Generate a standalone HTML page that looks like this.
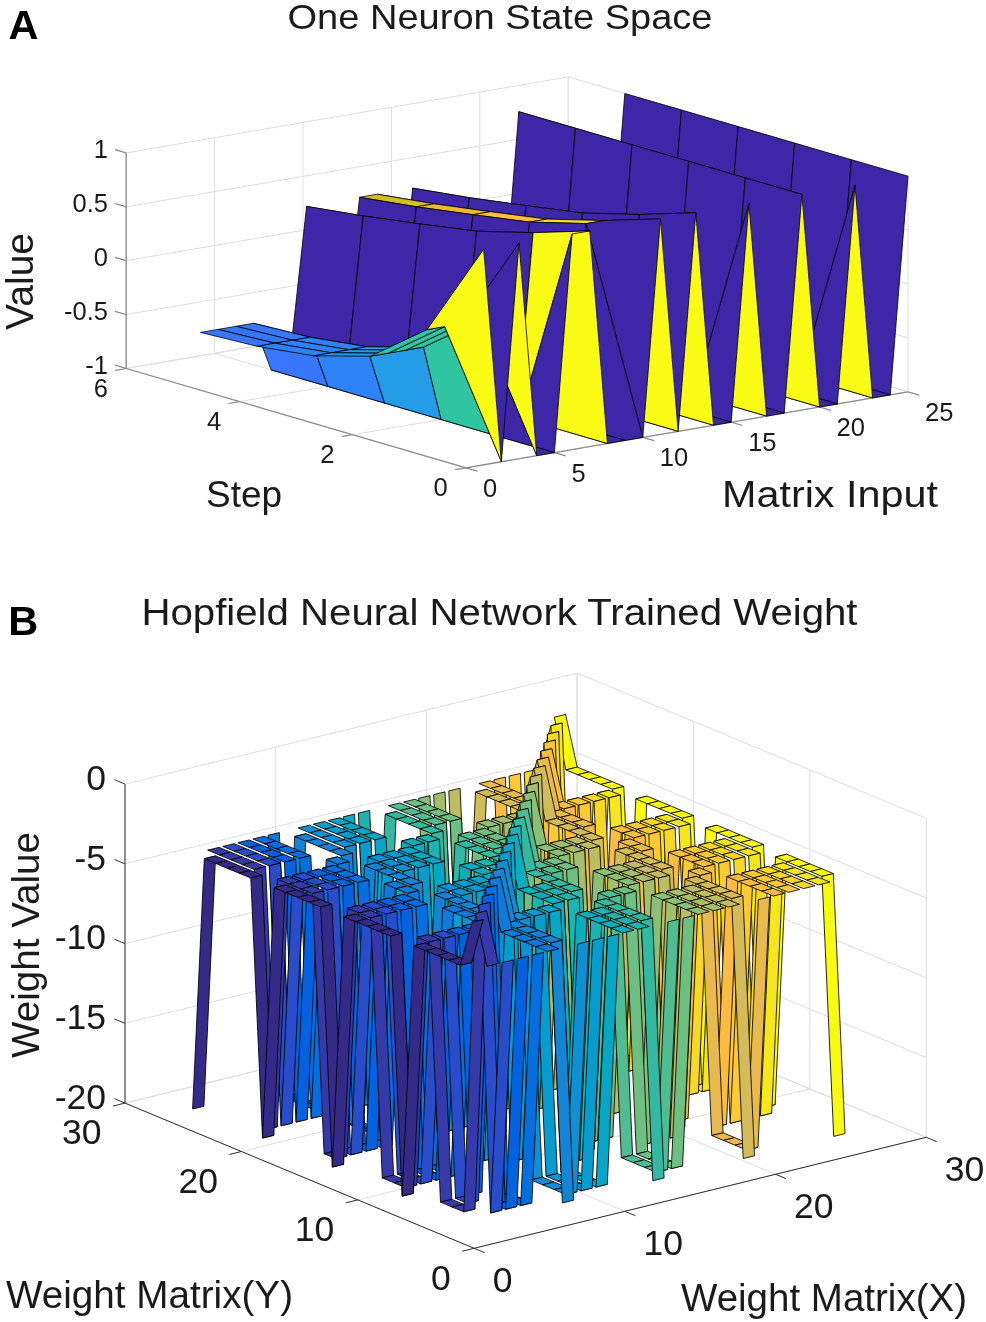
<!DOCTYPE html>
<html lang="en"><head><meta charset="utf-8"><title>Hopfield network figure</title>
<style>html,body{margin:0;padding:0;background:#fff}svg{display:block}#plotB polygon{stroke:#000;stroke-width:0.85;stroke-linejoin:round}</style>
</head><body>
<svg width="986" height="1322" viewBox="0 0 986 1322">
<rect width="986" height="1322" fill="#fff"/>
<g id="plotA">
<g><line x1="466" y1="467.8" x2="126.2" y2="368.5" stroke="#dedede" stroke-width="1.0"/><line x1="126.2" y1="368.5" x2="126.2" y2="152.9" stroke="#dedede" stroke-width="1.0"/><line x1="554.4" y1="452.6" x2="214.6" y2="353.3" stroke="#dedede" stroke-width="1.0"/><line x1="214.6" y1="353.3" x2="214.6" y2="137.7" stroke="#dedede" stroke-width="1.0"/><line x1="642.8" y1="437.4" x2="303" y2="338.1" stroke="#dedede" stroke-width="1.0"/><line x1="303" y1="338.1" x2="303" y2="122.5" stroke="#dedede" stroke-width="1.0"/><line x1="731.2" y1="422.2" x2="391.4" y2="322.9" stroke="#dedede" stroke-width="1.0"/><line x1="391.4" y1="322.9" x2="391.4" y2="107.3" stroke="#dedede" stroke-width="1.0"/><line x1="819.6" y1="407" x2="479.8" y2="307.7" stroke="#dedede" stroke-width="1.0"/><line x1="479.8" y1="307.7" x2="479.8" y2="92.1" stroke="#dedede" stroke-width="1.0"/><line x1="908" y1="391.8" x2="568.2" y2="292.5" stroke="#dedede" stroke-width="1.0"/><line x1="568.2" y1="292.5" x2="568.2" y2="76.9" stroke="#dedede" stroke-width="1.0"/><line x1="466" y1="467.8" x2="908" y2="391.8" stroke="#dedede" stroke-width="1.0"/><line x1="908" y1="391.8" x2="908" y2="176.2" stroke="#dedede" stroke-width="1.0"/><line x1="352.7" y1="434.7" x2="794.7" y2="358.7" stroke="#dedede" stroke-width="1.0"/><line x1="794.7" y1="358.7" x2="794.7" y2="143.1" stroke="#dedede" stroke-width="1.0"/><line x1="239.5" y1="401.6" x2="681.5" y2="325.6" stroke="#dedede" stroke-width="1.0"/><line x1="681.5" y1="325.6" x2="681.5" y2="110" stroke="#dedede" stroke-width="1.0"/><line x1="126.2" y1="368.5" x2="568.2" y2="292.5" stroke="#dedede" stroke-width="1.0"/><line x1="568.2" y1="292.5" x2="568.2" y2="76.9" stroke="#dedede" stroke-width="1.0"/><line x1="126.2" y1="368.5" x2="568.2" y2="292.5" stroke="#dedede" stroke-width="1.0"/><line x1="568.2" y1="292.5" x2="908" y2="391.8" stroke="#dedede" stroke-width="1.0"/><line x1="126.2" y1="314.6" x2="568.2" y2="238.6" stroke="#dedede" stroke-width="1.0"/><line x1="568.2" y1="238.6" x2="908" y2="337.9" stroke="#dedede" stroke-width="1.0"/><line x1="126.2" y1="260.7" x2="568.2" y2="184.7" stroke="#dedede" stroke-width="1.0"/><line x1="568.2" y1="184.7" x2="908" y2="284" stroke="#dedede" stroke-width="1.0"/><line x1="126.2" y1="206.8" x2="568.2" y2="130.8" stroke="#dedede" stroke-width="1.0"/><line x1="568.2" y1="130.8" x2="908" y2="230.1" stroke="#dedede" stroke-width="1.0"/><line x1="126.2" y1="152.9" x2="568.2" y2="76.9" stroke="#dedede" stroke-width="1.0"/><line x1="568.2" y1="76.9" x2="908" y2="176.2" stroke="#dedede" stroke-width="1.0"/></g>
<g><line x1="466" y1="467.8" x2="908" y2="391.8" stroke="#8a8a8a" stroke-width="1.3"/><line x1="466" y1="467.8" x2="126.2" y2="368.5" stroke="#8a8a8a" stroke-width="1.3"/><line x1="126.2" y1="368.5" x2="126.2" y2="152.9" stroke="#8a8a8a" stroke-width="1.3"/><line x1="466" y1="467.8" x2="477.3" y2="471.1" stroke="#8a8a8a" stroke-width="1.2"/><line x1="554.4" y1="452.6" x2="565.7" y2="455.9" stroke="#8a8a8a" stroke-width="1.2"/><line x1="642.8" y1="437.4" x2="654.1" y2="440.7" stroke="#8a8a8a" stroke-width="1.2"/><line x1="731.2" y1="422.2" x2="742.5" y2="425.5" stroke="#8a8a8a" stroke-width="1.2"/><line x1="819.6" y1="407" x2="830.9" y2="410.3" stroke="#8a8a8a" stroke-width="1.2"/><line x1="908" y1="391.8" x2="919.3" y2="395.1" stroke="#8a8a8a" stroke-width="1.2"/><line x1="466" y1="467.8" x2="455" y2="469.7" stroke="#8a8a8a" stroke-width="1.2"/><line x1="352.7" y1="434.7" x2="341.8" y2="436.6" stroke="#8a8a8a" stroke-width="1.2"/><line x1="239.5" y1="401.6" x2="228.5" y2="403.5" stroke="#8a8a8a" stroke-width="1.2"/><line x1="126.2" y1="368.5" x2="115.3" y2="370.4" stroke="#8a8a8a" stroke-width="1.2"/><line x1="126.2" y1="368.5" x2="114.9" y2="365.2" stroke="#8a8a8a" stroke-width="1.2"/><line x1="126.2" y1="314.6" x2="114.9" y2="311.3" stroke="#8a8a8a" stroke-width="1.2"/><line x1="126.2" y1="260.7" x2="114.9" y2="257.4" stroke="#8a8a8a" stroke-width="1.2"/><line x1="126.2" y1="206.8" x2="114.9" y2="203.5" stroke="#8a8a8a" stroke-width="1.2"/><line x1="126.2" y1="152.9" x2="114.9" y2="149.6" stroke="#8a8a8a" stroke-width="1.2"/></g>
<g stroke="#000" stroke-width="0.8" stroke-linejoin="round"><polygon points="663.8,328.6 681.5,110 624.8,93.5 607.2,312.1" fill="#3e26a8"/><polygon points="720.4,345.2 738.1,126.5 681.5,110 663.8,328.6" fill="#3e26a8"/><polygon points="777.1,361.7 794.7,143.1 738.1,126.5 720.4,345.2" fill="#3e26a8"/><polygon points="833.7,378.3 851.4,159.7 794.7,143.1 777.1,361.7" fill="#3e26a8"/><polygon points="890.3,394.8 908,176.2 851.4,159.7 833.7,378.3" fill="#3e26a8"/><polygon points="646.1,331.7 663.8,328.6 607.2,312.1 589.5,315.1" fill="#3e26a8"/><polygon points="702.8,348.2 720.4,345.2 663.8,328.6 646.1,331.7" fill="#3e26a8"/><polygon points="759.4,364.8 777.1,361.7 720.4,345.2 702.8,348.2" fill="#3e26a8"/><polygon points="816,381.3 833.7,378.3 777.1,361.7 759.4,364.8" fill="#3e26a8"/><polygon points="872.6,397.9 890.3,394.8 833.7,378.3 816,381.3" fill="#3e26a8"/><polygon points="628.4,334.7 646.1,331.7 589.5,315.1 571.8,318.2" fill="#3e26a8"/><polygon points="685.1,351.3 702.8,348.2 646.1,331.7 628.4,334.7" fill="#3e26a8"/><polygon points="741.7,367.8 759.4,364.8 702.8,348.2 685.1,351.3" fill="#3e26a8"/><polygon points="798.3,384.4 816,381.3 759.4,364.8 741.7,367.8" fill="#3e26a8"/><polygon points="855,185.3 872.6,397.9 816,381.3 798.3,384.4" fill="#f9fb15"/><polygon points="610.8,337.8 628.4,334.7 571.8,318.2 554.1,321.2" fill="#3e26a8"/><polygon points="667.4,354.3 685.1,351.3 628.4,334.7 610.8,337.8" fill="#3e26a8"/><polygon points="724,370.9 741.7,367.8 685.1,351.3 667.4,354.3" fill="#3e26a8"/><polygon points="780.6,387.4 798.3,384.4 741.7,367.8 724,370.9" fill="#3e26a8"/><polygon points="837.3,404 855,185.3 798.3,384.4 780.6,387.4" fill="#3e26a8"/><polygon points="593.1,340.8 610.8,337.8 554.1,321.2 536.5,324.2" fill="#3e26a8"/><polygon points="649.7,357.4 667.4,354.3 610.8,337.8 593.1,340.8" fill="#3e26a8"/><polygon points="706.3,373.9 724,370.9 667.4,354.3 649.7,357.4" fill="#3e26a8"/><polygon points="763,390.4 780.6,387.4 724,370.9 706.3,373.9" fill="#3e26a8"/><polygon points="819.6,407 837.3,404 780.6,387.4 763,390.4" fill="#3e26a8"/><polygon points="575.4,128.2 593.1,340.8 536.5,324.2 518.8,111.7" fill="#f9fb15"/><polygon points="632,144.8 649.7,357.4 593.1,340.8 575.4,128.2" fill="#f9fb15"/><polygon points="688.7,161.3 706.3,373.9 649.7,357.4 632,144.8" fill="#f9fb15"/><polygon points="745.3,177.9 763,390.4 706.3,373.9 688.7,161.3" fill="#f9fb15"/><polygon points="801.9,194.4 819.6,407 763,390.4 745.3,177.9" fill="#f9fb15"/><polygon points="557.7,346.9 575.4,128.2 518.8,111.7 501.1,330.3" fill="#3e26a8"/><polygon points="614.4,363.4 632,144.8 575.4,128.2 557.7,346.9" fill="#3e26a8"/><polygon points="671,380 688.7,161.3 632,144.8 614.4,363.4" fill="#3e26a8"/><polygon points="727.6,396.5 745.3,177.9 688.7,161.3 671,380" fill="#3e26a8"/><polygon points="784.2,413.1 801.9,194.4 745.3,177.9 727.6,396.5" fill="#3e26a8"/><polygon points="540,349.9 557.7,346.9 501.1,330.3 483.4,333.4" fill="#3e26a8"/><polygon points="596.7,366.5 614.4,363.4 557.7,346.9 540,349.9" fill="#3e26a8"/><polygon points="653.3,383 671,380 614.4,363.4 596.7,366.5" fill="#3e26a8"/><polygon points="709.9,399.6 727.6,396.5 671,380 653.3,383" fill="#3e26a8"/><polygon points="766.6,416.1 784.2,413.1 727.6,396.5 709.9,399.6" fill="#3e26a8"/><polygon points="522.4,353 540,349.9 483.4,333.4 465.7,336.4" fill="#3e26a8"/><polygon points="579,369.5 596.7,366.5 540,349.9 522.4,353" fill="#3e26a8"/><polygon points="635.6,386.1 653.3,383 596.7,366.5 579,369.5" fill="#3e26a8"/><polygon points="692.2,402.6 709.9,399.6 653.3,383 635.6,386.1" fill="#3e26a8"/><polygon points="748.9,203.6 766.6,416.1 709.9,399.6 692.2,402.6" fill="#f9fb15"/><polygon points="504.7,356 522.4,353 465.7,336.4 448.1,339.4" fill="#3e26a8"/><polygon points="561.3,372.5 579,369.5 522.4,353 504.7,356" fill="#3e26a8"/><polygon points="617.9,389.1 635.6,386.1 579,369.5 561.3,372.5" fill="#3e26a8"/><polygon points="674.6,405.6 692.2,402.6 635.6,386.1 617.9,389.1" fill="#3e26a8"/><polygon points="731.2,422.2 748.9,203.6 692.2,402.6 674.6,405.6" fill="#3e26a8"/><polygon points="487,359 504.7,356 448.1,339.4 430.4,342.5" fill="#3e26a8"/><polygon points="543.6,375.6 561.3,372.5 504.7,356 487,359" fill="#3e26a8"/><polygon points="600.3,392.1 617.9,389.1 561.3,372.5 543.6,375.6" fill="#3e26a8"/><polygon points="656.9,408.7 674.6,405.6 617.9,389.1 600.3,392.1" fill="#3e26a8"/><polygon points="713.5,425.2 731.2,422.2 674.6,405.6 656.9,408.7" fill="#3e26a8"/><polygon points="469.3,197.7 487,359 430.4,342.5 412.7,188.1" fill="#d2bf27"/><polygon points="526,205.6 543.6,375.6 487,359 469.3,197.7" fill="#ebba32"/><polygon points="582.6,213 600.3,392.1 543.6,375.6 526,205.6" fill="#febf3b"/><polygon points="639.2,214.5 656.9,408.7 600.3,392.1 582.6,213" fill="#f8da2b"/><polygon points="695.8,212.7 713.5,425.2 656.9,408.7 639.2,214.5" fill="#f9fb15"/><polygon points="451.6,365.1 469.3,197.7 412.7,188.1 395,348.6" fill="#3e26a8"/><polygon points="508.3,381.7 526,205.6 469.3,197.7 451.6,365.1" fill="#3e26a8"/><polygon points="564.9,398.2 582.6,213 526,205.6 508.3,381.7" fill="#3e26a8"/><polygon points="621.5,414.8 639.2,214.5 582.6,213 564.9,398.2" fill="#3e26a8"/><polygon points="678.2,431.3 695.8,212.7 639.2,214.5 621.5,414.8" fill="#3e26a8"/><polygon points="434,203.8 451.6,365.1 395,348.6 377.3,194.2" fill="#d2bf27"/><polygon points="490.6,211.7 508.3,381.7 451.6,365.1 434,203.8" fill="#ebba32"/><polygon points="547.2,219.1 564.9,398.2 508.3,381.7 490.6,211.7" fill="#febf3b"/><polygon points="603.9,220.5 621.5,414.8 564.9,398.2 547.2,219.1" fill="#f8da2b"/><polygon points="660.5,218.8 678.2,431.3 621.5,414.8 603.9,220.5" fill="#f9fb15"/><polygon points="416.3,206.8 434,203.8 377.3,194.2 359.6,197.3" fill="#d2bf27"/><polygon points="472.9,214.7 490.6,211.7 434,203.8 416.3,206.8" fill="#ebba32"/><polygon points="529.5,222.1 547.2,219.1 490.6,211.7 472.9,214.7" fill="#febf3b"/><polygon points="586.2,223.6 603.9,220.5 547.2,219.1 529.5,222.1" fill="#f8da2b"/><polygon points="642.8,437.4 660.5,218.8 603.9,220.5 586.2,223.6" fill="#3e26a8"/><polygon points="398.6,374.2 416.3,206.8 359.6,197.3 342,357.7" fill="#3e26a8"/><polygon points="455.2,390.8 472.9,214.7 416.3,206.8 398.6,374.2" fill="#3e26a8"/><polygon points="511.9,407.3 529.5,222.1 472.9,214.7 455.2,390.8" fill="#3e26a8"/><polygon points="568.5,423.9 586.2,223.6 529.5,222.1 511.9,407.3" fill="#3e26a8"/><polygon points="625.1,440.4 642.8,437.4 586.2,223.6 568.5,423.9" fill="#3e26a8"/><polygon points="380.9,377.3 398.6,374.2 342,357.7 324.3,360.7" fill="#3e26a8"/><polygon points="437.6,393.8 455.2,390.8 398.6,374.2 380.9,377.3" fill="#3e26a8"/><polygon points="494.2,410.4 511.9,407.3 455.2,390.8 437.6,393.8" fill="#3e26a8"/><polygon points="550.8,426.9 568.5,423.9 511.9,407.3 494.2,410.4" fill="#3e26a8"/><polygon points="607.4,443.5 625.1,440.4 568.5,423.9 550.8,426.9" fill="#3e26a8"/><polygon points="363.2,215.9 380.9,377.3 324.3,360.7 306.6,206.4" fill="#d2bf27"/><polygon points="419.9,223.9 437.6,393.8 380.9,377.3 363.2,215.9" fill="#ebba32"/><polygon points="476.5,231.2 494.2,410.4 437.6,393.8 419.9,223.9" fill="#febf3b"/><polygon points="533.1,232.7 550.8,426.9 494.2,410.4 476.5,231.2" fill="#f8da2b"/><polygon points="589.8,230.9 607.4,443.5 550.8,426.9 533.1,232.7" fill="#f9fb15"/><polygon points="345.6,383.4 363.2,215.9 306.6,206.4 288.9,366.8" fill="#3e26a8"/><polygon points="402.2,399.9 419.9,223.9 363.2,215.9 345.6,383.4" fill="#3e26a8"/><polygon points="458.8,416.5 476.5,231.2 419.9,223.9 402.2,399.9" fill="#3e26a8"/><polygon points="515.5,433 533.1,232.7 476.5,231.2 458.8,416.5" fill="#3e26a8"/><polygon points="572.1,234 589.8,230.9 533.1,232.7 515.5,433" fill="#f9fb15"/><polygon points="327.9,386.4 345.6,383.4 288.9,366.8 271.2,369.9" fill="#3e26a8"/><polygon points="384.5,403 402.2,399.9 345.6,383.4 327.9,386.4" fill="#3e26a8"/><polygon points="441.1,419.5 458.8,416.5 402.2,399.9 384.5,403" fill="#3e26a8"/><polygon points="497.8,436.1 515.5,433 458.8,416.5 441.1,419.5" fill="#3e26a8"/><polygon points="554.4,452.6 572.1,234 515.5,433 497.8,436.1" fill="#3e26a8"/><polygon points="310.2,337.2 327.9,386.4 271.2,369.9 253.6,323.3" fill="#3777fe"/><polygon points="366.8,346.7 384.5,403 327.9,386.4 310.2,337.2" fill="#2e83f9"/><polygon points="423.5,347.1 441.1,419.5 384.5,403 366.8,346.7" fill="#259ce7"/><polygon points="480.1,320.5 497.8,436.1 441.1,419.5 423.5,347.1" fill="#2fc5a2"/><polygon points="536.7,455.6 554.4,452.6 497.8,436.1 480.1,320.5" fill="#3e26a8"/><polygon points="292.5,340.2 310.2,337.2 253.6,323.3 235.9,326.3" fill="#3777fe"/><polygon points="349.1,349.7 366.8,346.7 310.2,337.2 292.5,340.2" fill="#2e83f9"/><polygon points="405.8,350.1 423.5,347.1 366.8,346.7 349.1,349.7" fill="#259ce7"/><polygon points="462.4,323.5 480.1,320.5 423.5,347.1 405.8,350.1" fill="#2fc5a2"/><polygon points="519,243.1 536.7,455.6 480.1,320.5 462.4,323.5" fill="#f9fb15"/><polygon points="274.8,343.2 292.5,340.2 235.9,326.3 218.2,329.4" fill="#3777fe"/><polygon points="331.5,352.8 349.1,349.7 292.5,340.2 274.8,343.2" fill="#2e83f9"/><polygon points="388.1,353.2 405.8,350.1 349.1,349.7 331.5,352.8" fill="#259ce7"/><polygon points="444.7,326.6 462.4,323.5 405.8,350.1 388.1,353.2" fill="#2fc5a2"/><polygon points="501.4,461.7 519,243.1 462.4,323.5 444.7,326.6" fill="#3e26a8"/><polygon points="257.2,346.3 274.8,343.2 218.2,329.4 200.5,332.4" fill="#3777fe"/><polygon points="313.8,355.8 331.5,352.8 274.8,343.2 257.2,346.3" fill="#2e83f9"/><polygon points="370.4,356.2 388.1,353.2 331.5,352.8 313.8,355.8" fill="#259ce7"/><polygon points="427.1,329.6 444.7,326.6 388.1,353.2 370.4,356.2" fill="#2fc5a2"/><polygon points="483.7,249.2 501.4,461.7 444.7,326.6 427.1,329.6" fill="#f9fb15"/></g>
</g>
<g id="plotB">
<g><line x1="474.2" y1="1248.3" x2="125" y2="1103.1" stroke="#dedede" stroke-width="1.0"/><line x1="125" y1="1103.1" x2="125" y2="784.1" stroke="#dedede" stroke-width="1.0"/><line x1="474.2" y1="1248.3" x2="926.3" y2="1137.3" stroke="#dedede" stroke-width="1.0"/><line x1="926.3" y1="1137.3" x2="926.3" y2="818.3" stroke="#dedede" stroke-width="1.0"/><line x1="624.9" y1="1211.3" x2="275.7" y2="1066.1" stroke="#dedede" stroke-width="1.0"/><line x1="275.7" y1="1066.1" x2="275.7" y2="747.1" stroke="#dedede" stroke-width="1.0"/><line x1="357.8" y1="1199.9" x2="809.9" y2="1088.9" stroke="#dedede" stroke-width="1.0"/><line x1="809.9" y1="1088.9" x2="809.9" y2="769.9" stroke="#dedede" stroke-width="1.0"/><line x1="775.6" y1="1174.3" x2="426.4" y2="1029.1" stroke="#dedede" stroke-width="1.0"/><line x1="426.4" y1="1029.1" x2="426.4" y2="710.1" stroke="#dedede" stroke-width="1.0"/><line x1="241.4" y1="1151.5" x2="693.5" y2="1040.5" stroke="#dedede" stroke-width="1.0"/><line x1="693.5" y1="1040.5" x2="693.5" y2="721.5" stroke="#dedede" stroke-width="1.0"/><line x1="926.3" y1="1137.3" x2="577.1" y2="992.1" stroke="#dedede" stroke-width="1.0"/><line x1="577.1" y1="992.1" x2="577.1" y2="673.1" stroke="#dedede" stroke-width="1.0"/><line x1="125" y1="1103.1" x2="577.1" y2="992.1" stroke="#dedede" stroke-width="1.0"/><line x1="577.1" y1="992.1" x2="577.1" y2="673.1" stroke="#dedede" stroke-width="1.0"/><line x1="125" y1="1103.1" x2="577.1" y2="992.1" stroke="#dedede" stroke-width="1.0"/><line x1="577.1" y1="992.1" x2="926.3" y2="1137.3" stroke="#dedede" stroke-width="1.0"/><line x1="125" y1="1023.3" x2="577.1" y2="912.3" stroke="#dedede" stroke-width="1.0"/><line x1="577.1" y1="912.3" x2="926.3" y2="1057.5" stroke="#dedede" stroke-width="1.0"/><line x1="125" y1="943.6" x2="577.1" y2="832.6" stroke="#dedede" stroke-width="1.0"/><line x1="577.1" y1="832.6" x2="926.3" y2="977.8" stroke="#dedede" stroke-width="1.0"/><line x1="125" y1="863.8" x2="577.1" y2="752.8" stroke="#dedede" stroke-width="1.0"/><line x1="577.1" y1="752.8" x2="926.3" y2="898" stroke="#dedede" stroke-width="1.0"/><line x1="125" y1="784.1" x2="577.1" y2="673.1" stroke="#dedede" stroke-width="1.0"/><line x1="577.1" y1="673.1" x2="926.3" y2="818.3" stroke="#dedede" stroke-width="1.0"/></g>
<g><line x1="474.2" y1="1248.3" x2="926.3" y2="1137.3" stroke="#2e2e2e" stroke-width="1"/><line x1="474.2" y1="1248.3" x2="125" y2="1103.1" stroke="#2e2e2e" stroke-width="1"/><line x1="125" y1="1103.1" x2="125" y2="784.1" stroke="#2e2e2e" stroke-width="1"/><line x1="474.2" y1="1248.3" x2="484.7" y2="1252.7" stroke="#2e2e2e" stroke-width="1"/><line x1="474.2" y1="1248.3" x2="462.1" y2="1251.3" stroke="#2e2e2e" stroke-width="1"/><line x1="624.9" y1="1211.3" x2="635.4" y2="1215.7" stroke="#2e2e2e" stroke-width="1"/><line x1="357.8" y1="1199.9" x2="345.7" y2="1202.9" stroke="#2e2e2e" stroke-width="1"/><line x1="775.6" y1="1174.3" x2="786.1" y2="1178.7" stroke="#2e2e2e" stroke-width="1"/><line x1="241.4" y1="1151.5" x2="229.3" y2="1154.5" stroke="#2e2e2e" stroke-width="1"/><line x1="926.3" y1="1137.3" x2="936.8" y2="1141.7" stroke="#2e2e2e" stroke-width="1"/><line x1="125" y1="1103.1" x2="112.9" y2="1106.1" stroke="#2e2e2e" stroke-width="1"/><line x1="125" y1="1103.1" x2="114.5" y2="1098.7" stroke="#2e2e2e" stroke-width="1"/><line x1="125" y1="1023.3" x2="114.5" y2="1019" stroke="#2e2e2e" stroke-width="1"/><line x1="125" y1="943.6" x2="114.5" y2="939.2" stroke="#2e2e2e" stroke-width="1"/><line x1="125" y1="863.8" x2="114.5" y2="859.5" stroke="#2e2e2e" stroke-width="1"/><line x1="125" y1="784.1" x2="114.5" y2="779.7" stroke="#2e2e2e" stroke-width="1"/></g>
<g fill="#f9fb0e"><polygon points="565.9,769.9 577.2,767.1 565.6,714.4 554.3,717.2"/><polygon points="577.6,774.7 588.9,771.9 577.2,767.1 565.9,769.9"/><polygon points="589.2,779.6 600.5,776.8 588.9,771.9 577.6,774.7"/><polygon points="600.9,784.4 612.2,781.6 600.5,776.8 589.2,779.6"/><polygon points="612.5,789.2 623.8,786.5 612.2,781.6 600.9,784.4"/><polygon points="624.1,1049.3 635.4,1046.5 623.8,786.5 612.5,789.2"/><polygon points="635.8,798.9 647.1,796.1 635.4,1046.5 624.1,1049.3"/><polygon points="647.4,803.8 658.7,801 647.1,796.1 635.8,798.9"/><polygon points="659.1,808.6 670.4,805.8 658.7,801 647.4,803.8"/><polygon points="670.7,813.4 682,810.7 670.4,805.8 659.1,808.6"/><polygon points="682.3,818.3 693.6,815.5 682,810.7 670.7,813.4"/><polygon points="694,1078.3 705.3,1075.5 693.6,815.5 682.3,818.3"/><polygon points="705.6,828 716.9,825.2 705.3,1075.5 694,1078.3"/><polygon points="717.3,832.8 728.6,830 716.9,825.2 705.6,828"/><polygon points="728.9,837.6 740.2,834.9 728.6,830 717.3,832.8"/><polygon points="740.5,842.5 751.8,839.7 740.2,834.9 728.9,837.6"/><polygon points="752.2,847.3 763.5,844.5 751.8,839.7 740.5,842.5"/><polygon points="763.8,1107.4 775.1,1104.6 763.5,844.5 752.2,847.3"/><polygon points="775.5,857 786.8,854.2 775.1,1104.6 763.8,1107.4"/><polygon points="787.1,861.8 798.4,859.1 786.8,854.2 775.5,857"/><polygon points="798.7,866.7 810,863.9 798.4,859.1 787.1,861.8"/><polygon points="810.4,871.5 821.7,868.7 810,863.9 798.7,866.7"/><polygon points="822,876.4 833.3,873.6 821.7,868.7 810.4,871.5"/><polygon points="833.7,1136.4 845,1133.6 833.3,873.6 822,876.4"/></g>
<g fill="#f5e71b"><polygon points="550.9,725.7 562.2,723 550.5,766 539.2,768.7"/><polygon points="562.5,1033.6 573.8,1030.8 562.2,723 550.9,725.7"/><polygon points="574.1,1038.5 585.5,1035.7 573.8,1030.8 562.5,1033.6"/><polygon points="585.8,1043.3 597.1,1040.5 585.5,1035.7 574.1,1038.5"/><polygon points="597.4,792.9 608.7,790.2 597.1,1040.5 585.8,1043.3"/><polygon points="609.1,797.8 620.4,795 608.7,790.2 597.4,792.9"/><polygon points="620.7,1057.8 632,1055 620.4,795 609.1,797.8"/><polygon points="632.3,1062.7 643.7,1059.9 632,1055 620.7,1057.8"/><polygon points="644,1067.5 655.3,1064.7 643.7,1059.9 632.3,1062.7"/><polygon points="655.6,817.1 666.9,814.4 655.3,1064.7 644,1067.5"/><polygon points="667.3,822 678.6,819.2 666.9,814.4 655.6,817.1"/><polygon points="678.9,826.8 690.2,824 678.6,819.2 667.3,822"/><polygon points="690.5,1086.9 701.9,1084.1 690.2,824 678.9,826.8"/><polygon points="702.2,1091.7 713.5,1088.9 701.9,1084.1 690.5,1086.9"/><polygon points="713.8,841.3 725.1,838.6 713.5,1088.9 702.2,1091.7"/><polygon points="725.5,846.2 736.8,843.4 725.1,838.6 713.8,841.3"/><polygon points="737.1,851 748.4,848.2 736.8,843.4 725.5,846.2"/><polygon points="748.7,855.9 760.1,853.1 748.4,848.2 737.1,851"/><polygon points="760.4,1115.9 771.7,1113.1 760.1,853.1 748.7,855.9"/><polygon points="772,865.5 783.3,862.8 771.7,1113.1 760.4,1115.9"/><polygon points="783.7,870.4 795,867.6 783.3,862.8 772,865.5"/><polygon points="795.3,875.2 806.6,872.4 795,867.6 783.7,870.4"/><polygon points="806.9,880.1 818.3,877.3 806.6,872.4 795.3,875.2"/><polygon points="818.6,884.9 829.9,882.1 818.3,877.3 806.9,880.1"/></g>
<g fill="#f8d727"><polygon points="535.8,1032.5 547.1,1029.7 535.5,769.7 524.2,772.4"/><polygon points="547.4,734.3 558.7,731.5 547.1,1029.7 535.8,1032.5"/><polygon points="559.1,1042.2 570.4,1039.4 558.7,731.5 547.4,734.3"/><polygon points="570.7,1047 582,1044.2 570.4,1039.4 559.1,1042.2"/><polygon points="582.4,796.6 593.7,793.9 582,1044.2 570.7,1047"/><polygon points="594,801.5 605.3,798.7 593.7,793.9 582.4,796.6"/><polygon points="605.6,1061.5 616.9,1058.7 605.3,798.7 594,801.5"/><polygon points="617.3,1066.4 628.6,1063.6 616.9,1058.7 605.6,1061.5"/><polygon points="628.9,1071.2 640.2,1068.4 628.6,1063.6 617.3,1066.4"/><polygon points="640.6,820.8 651.9,818.1 640.2,1068.4 628.9,1071.2"/><polygon points="652.2,825.7 663.5,822.9 651.9,818.1 640.6,820.8"/><polygon points="663.8,830.5 675.1,827.7 663.5,822.9 652.2,825.7"/><polygon points="675.5,1090.6 686.8,1087.8 675.1,827.7 663.8,830.5"/><polygon points="687.1,1095.4 698.4,1092.6 686.8,1087.8 675.5,1090.6"/><polygon points="698.8,845 710.1,842.3 698.4,1092.6 687.1,1095.4"/><polygon points="710.4,849.9 721.7,847.1 710.1,842.3 698.8,845"/><polygon points="722,854.7 733.3,851.9 721.7,847.1 710.4,849.9"/><polygon points="733.7,859.6 745,856.8 733.3,851.9 722,854.7"/><polygon points="745.3,1119.6 756.6,1116.8 745,856.8 733.7,859.6"/><polygon points="757,869.2 768.3,866.5 756.6,1116.8 745.3,1119.6"/><polygon points="768.6,874.1 779.9,871.3 768.3,866.5 757,869.2"/><polygon points="780.2,878.9 791.5,876.1 779.9,871.3 768.6,874.1"/><polygon points="791.9,883.8 803.2,881 791.5,876.1 780.2,878.9"/><polygon points="803.5,888.6 814.8,885.8 803.2,881 791.9,883.8"/></g>
<g fill="#fec932"><polygon points="520.7,1036.2 532,1033.4 520.4,773.4 509.1,776.1"/><polygon points="532.4,1041 543.7,1038.2 532,1033.4 520.7,1036.2"/><polygon points="544,742.8 555.3,740 543.7,1038.2 532.4,1041"/><polygon points="555.6,1050.7 567,1047.9 555.3,740 544,742.8"/><polygon points="567.3,800.3 578.6,797.6 567,1047.9 555.6,1050.7"/><polygon points="578.9,805.2 590.2,802.4 578.6,797.6 567.3,800.3"/><polygon points="590.6,1065.2 601.9,1062.4 590.2,802.4 578.9,805.2"/><polygon points="602.2,1070.1 613.5,1067.3 601.9,1062.4 590.6,1065.2"/><polygon points="613.8,1074.9 625.2,1072.1 613.5,1067.3 602.2,1070.1"/><polygon points="625.5,824.5 636.8,821.8 625.2,1072.1 613.8,1074.9"/><polygon points="637.1,829.4 648.4,826.6 636.8,821.8 625.5,824.5"/><polygon points="648.8,834.2 660.1,831.4 648.4,826.6 637.1,829.4"/><polygon points="660.4,1094.3 671.7,1091.5 660.1,831.4 648.8,834.2"/><polygon points="672,1099.1 683.4,1096.3 671.7,1091.5 660.4,1094.3"/><polygon points="683.7,848.7 695,846 683.4,1096.3 672,1099.1"/><polygon points="695.3,853.6 706.6,850.8 695,846 683.7,848.7"/><polygon points="707,858.4 718.3,855.6 706.6,850.8 695.3,853.6"/><polygon points="718.6,863.3 729.9,860.5 718.3,855.6 707,858.4"/><polygon points="730.2,1123.3 741.6,1120.5 729.9,860.5 718.6,863.3"/><polygon points="741.9,872.9 753.2,870.2 741.6,1120.5 730.2,1123.3"/><polygon points="753.5,877.8 764.8,875 753.2,870.2 741.9,872.9"/><polygon points="765.2,882.6 776.5,879.8 764.8,875 753.5,877.8"/><polygon points="776.8,887.5 788.1,884.7 776.5,879.8 765.2,882.6"/><polygon points="788.4,892.3 799.8,889.5 788.1,884.7 776.8,887.5"/></g>
<g fill="#fbbc41"><polygon points="505.7,1039.9 517,1037.1 505.3,777.1 494,779.8"/><polygon points="517.3,1044.7 528.6,1041.9 517,1037.1 505.7,1039.9"/><polygon points="528.9,1049.6 540.2,1046.8 528.6,1041.9 517.3,1044.7"/><polygon points="540.6,751.3 551.9,748.6 540.2,1046.8 528.9,1049.6"/><polygon points="552.2,804 563.5,801.3 551.9,748.6 540.6,751.3"/><polygon points="563.9,808.9 575.2,806.1 563.5,801.3 552.2,804"/><polygon points="575.5,1068.9 586.8,1066.1 575.2,806.1 563.9,808.9"/><polygon points="587.1,1073.8 598.4,1071 586.8,1066.1 575.5,1068.9"/><polygon points="598.8,1078.6 610.1,1075.8 598.4,1071 587.1,1073.8"/><polygon points="610.4,828.2 621.7,825.5 610.1,1075.8 598.8,1078.6"/><polygon points="622.1,833.1 633.4,830.3 621.7,825.5 610.4,828.2"/><polygon points="633.7,837.9 645,835.1 633.4,830.3 622.1,833.1"/><polygon points="645.3,1098 656.6,1095.2 645,835.1 633.7,837.9"/><polygon points="657,1102.8 668.3,1100 656.6,1095.2 645.3,1098"/><polygon points="668.6,852.4 679.9,849.7 668.3,1100 657,1102.8"/><polygon points="680.3,857.3 691.6,854.5 679.9,849.7 668.6,852.4"/><polygon points="691.9,862.1 703.2,859.3 691.6,854.5 680.3,857.3"/><polygon points="703.5,867 714.8,864.2 703.2,859.3 691.9,862.1"/><polygon points="715.2,1127 726.5,1124.2 714.8,864.2 703.5,867"/><polygon points="726.8,876.6 738.1,873.9 726.5,1124.2 715.2,1127"/><polygon points="738.5,881.5 749.8,878.7 738.1,873.9 726.8,876.6"/><polygon points="750.1,886.3 761.4,883.5 749.8,878.7 738.5,881.5"/><polygon points="761.7,891.2 773,888.4 761.4,883.5 750.1,886.3"/><polygon points="773.4,896 784.7,893.2 773,888.4 761.7,891.2"/></g>
<g fill="#e8b94f"><polygon points="490.6,788.4 501.9,785.6 490.3,780.8 478.9,783.5"/><polygon points="502.2,793.2 513.5,790.4 501.9,785.6 490.6,788.4"/><polygon points="513.9,798.1 525.2,795.3 513.5,790.4 502.2,793.2"/><polygon points="525.5,802.9 536.8,800.1 525.2,795.3 513.9,798.1"/><polygon points="537.1,759.9 548.5,757.1 536.8,800.1 525.5,802.9"/><polygon points="548.8,812.6 560.1,809.8 548.5,757.1 537.1,759.9"/><polygon points="560.4,817.4 571.7,814.6 560.1,809.8 548.8,812.6"/><polygon points="572.1,822.3 583.4,819.5 571.7,814.6 560.4,817.4"/><polygon points="583.7,827.1 595,824.3 583.4,819.5 572.1,822.3"/><polygon points="595.3,1087.1 606.7,1084.4 595,824.3 583.7,827.1"/><polygon points="607,1092 618.3,1089.2 606.7,1084.4 595.3,1087.1"/><polygon points="618.6,841.6 629.9,838.8 618.3,1089.2 607,1092"/><polygon points="630.3,846.5 641.6,843.7 629.9,838.8 618.6,841.6"/><polygon points="641.9,851.3 653.2,848.5 641.6,843.7 630.3,846.5"/><polygon points="653.5,1111.3 664.9,1108.6 653.2,848.5 641.9,851.3"/><polygon points="665.2,1116.2 676.5,1113.4 664.9,1108.6 653.5,1111.3"/><polygon points="676.8,1121 688.1,1118.2 676.5,1113.4 665.2,1116.2"/><polygon points="688.5,870.7 699.8,867.9 688.1,1118.2 676.8,1121"/><polygon points="700.1,875.5 711.4,872.7 699.8,867.9 688.5,870.7"/><polygon points="711.7,1135.5 723.1,1132.8 711.4,872.7 700.1,875.5"/><polygon points="723.4,1140.4 734.7,1137.6 723.1,1132.8 711.7,1135.5"/><polygon points="735,1145.2 746.3,1142.4 734.7,1137.6 723.4,1140.4"/><polygon points="746.7,1150.1 758,1147.3 746.3,1142.4 735,1145.2"/><polygon points="758.3,899.7 769.6,896.9 758,1147.3 746.7,1150.1"/></g>
<g fill="#d3bb58"><polygon points="475.5,792.1 486.8,789.3 475.2,1039.7 463.9,1042.4"/><polygon points="487.2,796.9 498.5,794.1 486.8,789.3 475.5,792.1"/><polygon points="498.8,801.8 510.1,799 498.5,794.1 487.2,796.9"/><polygon points="510.4,806.6 521.7,803.8 510.1,799 498.8,801.8"/><polygon points="522.1,811.4 533.4,808.7 521.7,803.8 510.4,806.6"/><polygon points="533.7,768.4 545,765.7 533.4,808.7 522.1,811.4"/><polygon points="545.4,821.1 556.7,818.3 545,765.7 533.7,768.4"/><polygon points="557,826 568.3,823.2 556.7,818.3 545.4,821.1"/><polygon points="568.6,830.8 579.9,828 568.3,823.2 557,826"/><polygon points="580.3,835.6 591.6,832.9 579.9,828 568.6,830.8"/><polygon points="591.9,840.5 603.2,837.7 591.6,832.9 580.3,835.6"/><polygon points="603.6,1100.5 614.9,1097.7 603.2,837.7 591.9,840.5"/><polygon points="615.2,850.2 626.5,847.4 614.9,1097.7 603.6,1100.5"/><polygon points="626.8,855 638.1,852.2 626.5,847.4 615.2,850.2"/><polygon points="638.5,859.8 649.8,857.1 638.1,852.2 626.8,855"/><polygon points="650.1,864.7 661.4,861.9 649.8,857.1 638.5,859.8"/><polygon points="661.8,869.5 673.1,866.7 661.4,861.9 650.1,864.7"/><polygon points="673.4,1129.6 684.7,1126.8 673.1,866.7 661.8,869.5"/><polygon points="685,879.2 696.3,876.4 684.7,1126.8 673.4,1129.6"/><polygon points="696.7,884 708,881.3 696.3,876.4 685,879.2"/><polygon points="708.3,888.9 719.6,886.1 708,881.3 696.7,884"/><polygon points="720,893.7 731.3,890.9 719.6,886.1 708.3,888.9"/><polygon points="731.6,898.6 742.9,895.8 731.3,890.9 720,893.7"/><polygon points="743.2,1158.6 754.5,1155.8 742.9,895.8 731.6,898.6"/></g>
<g fill="#bdbd61"><polygon points="460.4,1051 471.8,1048.2 460.1,788.2 448.8,790.9"/><polygon points="472.1,1055.8 483.4,1053 471.8,1048.2 460.4,1051"/><polygon points="483.7,1060.7 495,1057.9 483.4,1053 472.1,1055.8"/><polygon points="495.4,1065.5 506.7,1062.7 495,1057.9 483.7,1060.7"/><polygon points="507,815.1 518.3,812.4 506.7,1062.7 495.4,1065.5"/><polygon points="518.6,820 530,817.2 518.3,812.4 507,815.1"/><polygon points="530.3,777 541.6,774.2 530,817.2 518.6,820"/><polygon points="541.9,1084.9 553.2,1082.1 541.6,774.2 530.3,777"/><polygon points="553.6,1089.7 564.9,1086.9 553.2,1082.1 541.9,1084.9"/><polygon points="565.2,839.3 576.5,836.6 564.9,1086.9 553.6,1089.7"/><polygon points="576.8,844.2 588.2,841.4 576.5,836.6 565.2,839.3"/><polygon points="588.5,849 599.8,846.2 588.2,841.4 576.8,844.2"/><polygon points="600.1,1109.1 611.4,1106.3 599.8,846.2 588.5,849"/><polygon points="611.8,1113.9 623.1,1111.1 611.4,1106.3 600.1,1109.1"/><polygon points="623.4,863.5 634.7,860.8 623.1,1111.1 611.8,1113.9"/><polygon points="635,868.4 646.4,865.6 634.7,860.8 623.4,863.5"/><polygon points="646.7,873.2 658,870.4 646.4,865.6 635,868.4"/><polygon points="658.3,878.1 669.6,875.3 658,870.4 646.7,873.2"/><polygon points="670,1138.1 681.3,1135.3 669.6,875.3 658.3,878.1"/><polygon points="681.6,887.7 692.9,885 681.3,1135.3 670,1138.1"/><polygon points="693.2,892.6 704.6,889.8 692.9,885 681.6,887.7"/><polygon points="704.9,897.4 716.2,894.6 704.6,889.8 693.2,892.6"/><polygon points="716.5,902.3 727.8,899.5 716.2,894.6 704.9,897.4"/><polygon points="728.2,907.1 739.5,904.3 727.8,899.5 716.5,902.3"/></g>
<g fill="#a5be6b"><polygon points="445.4,1054.7 456.7,1051.9 445,791.9 433.7,794.6"/><polygon points="457,1059.5 468.3,1056.7 456.7,1051.9 445.4,1054.7"/><polygon points="468.7,1064.4 480,1061.6 468.3,1056.7 457,1059.5"/><polygon points="480.3,1069.2 491.6,1066.4 480,1061.6 468.7,1064.4"/><polygon points="491.9,818.8 503.2,816.1 491.6,1066.4 480.3,1069.2"/><polygon points="503.6,823.7 514.9,820.9 503.2,816.1 491.9,818.8"/><polygon points="515.2,1083.7 526.5,1080.9 514.9,820.9 503.6,823.7"/><polygon points="526.9,785.5 538.2,782.7 526.5,1080.9 515.2,1083.7"/><polygon points="538.5,1093.4 549.8,1090.6 538.2,782.7 526.9,785.5"/><polygon points="550.1,843 561.4,840.3 549.8,1090.6 538.5,1093.4"/><polygon points="561.8,847.9 573.1,845.1 561.4,840.3 550.1,843"/><polygon points="573.4,852.7 584.7,849.9 573.1,845.1 561.8,847.9"/><polygon points="585.1,1112.8 596.4,1110 584.7,849.9 573.4,852.7"/><polygon points="596.7,1117.6 608,1114.8 596.4,1110 585.1,1112.8"/><polygon points="608.3,867.2 619.6,864.5 608,1114.8 596.7,1117.6"/><polygon points="620,872.1 631.3,869.3 619.6,864.5 608.3,867.2"/><polygon points="631.6,876.9 642.9,874.1 631.3,869.3 620,872.1"/><polygon points="643.3,881.8 654.6,879 642.9,874.1 631.6,876.9"/><polygon points="654.9,1141.8 666.2,1139 654.6,879 643.3,881.8"/><polygon points="666.5,891.4 677.8,888.7 666.2,1139 654.9,1141.8"/><polygon points="678.2,896.3 689.5,893.5 677.8,888.7 666.5,891.4"/><polygon points="689.8,901.1 701.1,898.3 689.5,893.5 678.2,896.3"/><polygon points="701.5,906 712.8,903.2 701.1,898.3 689.8,901.1"/><polygon points="713.1,910.8 724.4,908 712.8,903.2 701.5,906"/></g>
<g fill="#8bbf75"><polygon points="430.3,1058.4 441.6,1055.6 430,795.6 418.7,798.3"/><polygon points="441.9,1063.2 453.3,1060.4 441.6,1055.6 430.3,1058.4"/><polygon points="453.6,1068.1 464.9,1065.3 453.3,1060.4 441.9,1063.2"/><polygon points="465.2,1072.9 476.5,1070.1 464.9,1065.3 453.6,1068.1"/><polygon points="476.9,822.5 488.2,819.8 476.5,1070.1 465.2,1072.9"/><polygon points="488.5,827.4 499.8,824.6 488.2,819.8 476.9,822.5"/><polygon points="500.1,1087.4 511.5,1084.6 499.8,824.6 488.5,827.4"/><polygon points="511.8,1092.3 523.1,1089.5 511.5,1084.6 500.1,1087.4"/><polygon points="523.4,794 534.7,791.3 523.1,1089.5 511.8,1092.3"/><polygon points="535.1,846.7 546.4,844 534.7,791.3 523.4,794"/><polygon points="546.7,851.6 558,848.8 546.4,844 535.1,846.7"/><polygon points="558.3,856.4 569.7,853.6 558,848.8 546.7,851.6"/><polygon points="570,1116.5 581.3,1113.7 569.7,853.6 558.3,856.4"/><polygon points="581.6,1121.3 592.9,1118.5 581.3,1113.7 570,1116.5"/><polygon points="593.3,870.9 604.6,868.2 592.9,1118.5 581.6,1121.3"/><polygon points="604.9,875.8 616.2,873 604.6,868.2 593.3,870.9"/><polygon points="616.5,880.6 627.9,877.8 616.2,873 604.9,875.8"/><polygon points="628.2,885.5 639.5,882.7 627.9,877.8 616.5,880.6"/><polygon points="639.8,1145.5 651.1,1142.7 639.5,882.7 628.2,885.5"/><polygon points="651.5,895.1 662.8,892.4 651.1,1142.7 639.8,1145.5"/><polygon points="663.1,900 674.4,897.2 662.8,892.4 651.5,895.1"/><polygon points="674.7,904.8 686.1,902 674.4,897.2 663.1,900"/><polygon points="686.4,909.7 697.7,906.9 686.1,902 674.7,904.8"/><polygon points="698,914.5 709.3,911.7 697.7,906.9 686.4,909.7"/></g>
<g fill="#6ebf82"><polygon points="415.2,806.9 426.5,804.1 414.9,799.3 403.6,802"/><polygon points="426.9,811.7 438.2,808.9 426.5,804.1 415.2,806.9"/><polygon points="438.5,816.6 449.8,813.8 438.2,808.9 426.9,811.7"/><polygon points="450.2,821.4 461.5,818.6 449.8,813.8 438.5,816.6"/><polygon points="461.8,1081.4 473.1,1078.7 461.5,818.6 450.2,821.4"/><polygon points="473.4,831.1 484.7,828.3 473.1,1078.7 461.8,1081.4"/><polygon points="485.1,835.9 496.4,833.1 484.7,828.3 473.4,831.1"/><polygon points="496.7,840.8 508,838 496.4,833.1 485.1,835.9"/><polygon points="508.4,845.6 519.7,842.8 508,838 496.7,840.8"/><polygon points="520,802.6 531.3,799.8 519.7,842.8 508.4,845.6"/><polygon points="531.6,1110.5 542.9,1107.7 531.3,799.8 520,802.6"/><polygon points="543.3,860.1 554.6,857.3 542.9,1107.7 531.6,1110.5"/><polygon points="554.9,865 566.2,862.2 554.6,857.3 543.3,860.1"/><polygon points="566.6,869.8 577.9,867 566.2,862.2 554.9,865"/><polygon points="578.2,1129.8 589.5,1127.1 577.9,867 566.6,869.8"/><polygon points="589.8,1134.7 601.1,1131.9 589.5,1127.1 578.2,1129.8"/><polygon points="601.5,1139.5 612.8,1136.7 601.1,1131.9 589.8,1134.7"/><polygon points="613.1,889.2 624.4,886.4 612.8,1136.7 601.5,1139.5"/><polygon points="624.8,894 636.1,891.2 624.4,886.4 613.1,889.2"/><polygon points="636.4,1154 647.7,1151.3 636.1,891.2 624.8,894"/><polygon points="648,1158.9 659.3,1156.1 647.7,1151.3 636.4,1154"/><polygon points="659.7,1163.7 671,1160.9 659.3,1156.1 648,1158.9"/><polygon points="671.3,1168.6 682.6,1165.8 671,1160.9 659.7,1163.7"/><polygon points="683,918.2 694.3,915.4 682.6,1165.8 671.3,1168.6"/></g>
<g fill="#4fbc91"><polygon points="400.2,810.6 411.5,807.8 399.8,803 388.5,805.7"/><polygon points="411.8,815.4 423.1,812.6 411.5,807.8 400.2,810.6"/><polygon points="423.4,820.3 434.8,817.5 423.1,812.6 411.8,815.4"/><polygon points="435.1,825.1 446.4,822.3 434.8,817.5 423.4,820.3"/><polygon points="446.7,1085.1 458,1082.4 446.4,822.3 435.1,825.1"/><polygon points="458.4,834.8 469.7,832 458,1082.4 446.7,1085.1"/><polygon points="470,839.6 481.3,836.8 469.7,832 458.4,834.8"/><polygon points="481.6,844.5 493,841.7 481.3,836.8 470,839.6"/><polygon points="493.3,849.3 504.6,846.5 493,841.7 481.6,844.5"/><polygon points="504.9,1109.3 516.2,1106.6 504.6,846.5 493.3,849.3"/><polygon points="516.6,811.1 527.9,808.4 516.2,1106.6 504.9,1109.3"/><polygon points="528.2,863.8 539.5,861 527.9,808.4 516.6,811.1"/><polygon points="539.8,868.7 551.2,865.9 539.5,861 528.2,863.8"/><polygon points="551.5,873.5 562.8,870.7 551.2,865.9 539.8,868.7"/><polygon points="563.1,1133.5 574.4,1130.8 562.8,870.7 551.5,873.5"/><polygon points="574.8,1138.4 586.1,1135.6 574.4,1130.8 563.1,1133.5"/><polygon points="586.4,1143.2 597.7,1140.4 586.1,1135.6 574.8,1138.4"/><polygon points="598,892.9 609.4,890.1 597.7,1140.4 586.4,1143.2"/><polygon points="609.7,897.7 621,894.9 609.4,890.1 598,892.9"/><polygon points="621.3,1157.7 632.6,1155 621,894.9 609.7,897.7"/><polygon points="633,1162.6 644.3,1159.8 632.6,1155 621.3,1157.7"/><polygon points="644.6,1167.4 655.9,1164.6 644.3,1159.8 633,1162.6"/><polygon points="656.2,1172.3 667.6,1169.5 655.9,1164.6 644.6,1167.4"/><polygon points="667.9,921.9 679.2,919.1 667.6,1169.5 656.2,1172.3"/></g>
<g fill="#33b8a1"><polygon points="385.1,814.3 396.4,811.5 384.8,1061.9 373.5,1064.6"/><polygon points="396.7,819.1 408,816.3 396.4,811.5 385.1,814.3"/><polygon points="408.4,824 419.7,821.2 408,816.3 396.7,819.1"/><polygon points="420,828.8 431.3,826 419.7,821.2 408.4,824"/><polygon points="431.7,833.6 443,830.9 431.3,826 420,828.8"/><polygon points="443.3,1093.7 454.6,1090.9 443,830.9 431.7,833.6"/><polygon points="454.9,843.3 466.2,840.5 454.6,1090.9 443.3,1093.7"/><polygon points="466.6,848.2 477.9,845.4 466.2,840.5 454.9,843.3"/><polygon points="478.2,853 489.5,850.2 477.9,845.4 466.6,848.2"/><polygon points="489.9,857.8 501.2,855.1 489.5,850.2 478.2,853"/><polygon points="501.5,862.7 512.8,859.9 501.2,855.1 489.9,857.8"/><polygon points="513.1,819.7 524.4,816.9 512.8,859.9 501.5,862.7"/><polygon points="524.8,872.4 536.1,869.6 524.4,816.9 513.1,819.7"/><polygon points="536.4,877.2 547.7,874.4 536.1,869.6 524.8,872.4"/><polygon points="548.1,882 559.4,879.3 547.7,874.4 536.4,877.2"/><polygon points="559.7,886.9 571,884.1 559.4,879.3 548.1,882"/><polygon points="571.3,891.7 582.6,888.9 571,884.1 559.7,886.9"/><polygon points="583,1151.8 594.3,1149 582.6,888.9 571.3,891.7"/><polygon points="594.6,901.4 605.9,898.6 594.3,1149 583,1151.8"/><polygon points="606.3,906.2 617.6,903.5 605.9,898.6 594.6,901.4"/><polygon points="617.9,911.1 629.2,908.3 617.6,903.5 606.3,906.2"/><polygon points="629.5,915.9 640.8,913.1 629.2,908.3 617.9,911.1"/><polygon points="641.2,920.8 652.5,918 640.8,913.1 629.5,915.9"/><polygon points="652.8,1180.8 664.1,1178 652.5,918 641.2,920.8"/></g>
<g fill="#1cb3b0"><polygon points="370,1073.2 381.3,1070.4 369.7,810.4 358.4,813.1"/><polygon points="381.7,1078 393,1075.2 381.3,1070.4 370,1073.2"/><polygon points="393.3,1082.9 404.6,1080.1 393,1075.2 381.7,1078"/><polygon points="404.9,1087.7 416.3,1084.9 404.6,1080.1 393.3,1082.9"/><polygon points="416.6,837.3 427.9,834.6 416.3,1084.9 404.9,1087.7"/><polygon points="428.2,842.2 439.5,839.4 427.9,834.6 416.6,837.3"/><polygon points="439.9,1102.2 451.2,1099.4 439.5,839.4 428.2,842.2"/><polygon points="451.5,1107.1 462.8,1104.3 451.2,1099.4 439.9,1102.2"/><polygon points="463.1,1111.9 474.5,1109.1 462.8,1104.3 451.5,1107.1"/><polygon points="474.8,861.5 486.1,858.8 474.5,1109.1 463.1,1111.9"/><polygon points="486.4,866.4 497.7,863.6 486.1,858.8 474.8,861.5"/><polygon points="498.1,871.2 509.4,868.4 497.7,863.6 486.4,866.4"/><polygon points="509.7,828.2 521,825.4 509.4,868.4 498.1,871.2"/><polygon points="521.3,1136.1 532.7,1133.3 521,825.4 509.7,828.2"/><polygon points="533,885.7 544.3,883 532.7,1133.3 521.3,1136.1"/><polygon points="544.6,890.6 555.9,887.8 544.3,883 533,885.7"/><polygon points="556.3,895.4 567.6,892.6 555.9,887.8 544.6,890.6"/><polygon points="567.9,900.3 579.2,897.5 567.6,892.6 556.3,895.4"/><polygon points="579.5,1160.3 590.9,1157.5 579.2,897.5 567.9,900.3"/><polygon points="591.2,909.9 602.5,907.2 590.9,1157.5 579.5,1160.3"/><polygon points="602.8,914.8 614.1,912 602.5,907.2 591.2,909.9"/><polygon points="614.5,919.6 625.8,916.8 614.1,912 602.8,914.8"/><polygon points="626.1,924.5 637.4,921.7 625.8,916.8 614.5,919.6"/><polygon points="637.7,929.3 649.1,926.5 637.4,921.7 626.1,924.5"/></g>
<g fill="#0badbc"><polygon points="355,1076.9 366.3,1074.1 354.6,814.1 343.3,816.8"/><polygon points="366.6,1081.7 377.9,1078.9 366.3,1074.1 355,1076.9"/><polygon points="378.2,1086.6 389.5,1083.8 377.9,1078.9 366.6,1081.7"/><polygon points="389.9,1091.4 401.2,1088.6 389.5,1083.8 378.2,1086.6"/><polygon points="401.5,841 412.8,838.3 401.2,1088.6 389.9,1091.4"/><polygon points="413.2,845.9 424.5,843.1 412.8,838.3 401.5,841"/><polygon points="424.8,1105.9 436.1,1103.1 424.5,843.1 413.2,845.9"/><polygon points="436.4,1110.8 447.7,1108 436.1,1103.1 424.8,1105.9"/><polygon points="448.1,1115.6 459.4,1112.8 447.7,1108 436.4,1110.8"/><polygon points="459.7,865.2 471,862.5 459.4,1112.8 448.1,1115.6"/><polygon points="471.4,870.1 482.7,867.3 471,862.5 459.7,865.2"/><polygon points="483,874.9 494.3,872.1 482.7,867.3 471.4,870.1"/><polygon points="494.6,1135 505.9,1132.2 494.3,872.1 483,874.9"/><polygon points="506.3,836.7 517.6,834 505.9,1132.2 494.6,1135"/><polygon points="517.9,889.4 529.2,886.7 517.6,834 506.3,836.7"/><polygon points="529.6,894.3 540.9,891.5 529.2,886.7 517.9,889.4"/><polygon points="541.2,899.1 552.5,896.3 540.9,891.5 529.6,894.3"/><polygon points="552.8,904 564.1,901.2 552.5,896.3 541.2,899.1"/><polygon points="564.5,1164 575.8,1161.2 564.1,901.2 552.8,904"/><polygon points="576.1,913.6 587.4,910.9 575.8,1161.2 564.5,1164"/><polygon points="587.8,918.5 599.1,915.7 587.4,910.9 576.1,913.6"/><polygon points="599.4,923.3 610.7,920.5 599.1,915.7 587.8,918.5"/><polygon points="611,928.2 622.3,925.4 610.7,920.5 599.4,923.3"/><polygon points="622.7,933 634,930.2 622.3,925.4 611,928.2"/></g>
<g fill="#06a6c7"><polygon points="339.9,825.4 351.2,822.6 339.6,817.8 328.2,820.5"/><polygon points="351.5,830.2 362.8,827.4 351.2,822.6 339.9,825.4"/><polygon points="363.2,835.1 374.5,832.3 362.8,827.4 351.5,830.2"/><polygon points="374.8,839.9 386.1,837.1 374.5,832.3 363.2,835.1"/><polygon points="386.4,1099.9 397.8,1097.2 386.1,837.1 374.8,839.9"/><polygon points="398.1,849.6 409.4,846.8 397.8,1097.2 386.4,1099.9"/><polygon points="409.7,854.4 421,851.6 409.4,846.8 398.1,849.6"/><polygon points="421.4,859.3 432.7,856.5 421,851.6 409.7,854.4"/><polygon points="433,864.1 444.3,861.3 432.7,856.5 421.4,859.3"/><polygon points="444.6,1124.1 456,1121.4 444.3,861.3 433,864.1"/><polygon points="456.3,1129 467.6,1126.2 456,1121.4 444.6,1124.1"/><polygon points="467.9,878.6 479.2,875.8 467.6,1126.2 456.3,1129"/><polygon points="479.6,883.5 490.9,880.7 479.2,875.8 467.9,878.6"/><polygon points="491.2,888.3 502.5,885.5 490.9,880.7 479.6,883.5"/><polygon points="502.8,845.3 514.2,842.5 502.5,885.5 491.2,888.3"/><polygon points="514.5,1153.2 525.8,1150.4 514.2,842.5 502.8,845.3"/><polygon points="526.1,1158 537.4,1155.2 525.8,1150.4 514.5,1153.2"/><polygon points="537.8,907.7 549.1,904.9 537.4,1155.2 526.1,1158"/><polygon points="549.4,912.5 560.7,909.7 549.1,904.9 537.8,907.7"/><polygon points="561,1172.5 572.4,1169.8 560.7,909.7 549.4,912.5"/><polygon points="572.7,1177.4 584,1174.6 572.4,1169.8 561,1172.5"/><polygon points="584.3,1182.2 595.6,1179.4 584,1174.6 572.7,1177.4"/><polygon points="596,1187.1 607.3,1184.3 595.6,1179.4 584.3,1182.2"/><polygon points="607.6,936.7 618.9,933.9 607.3,1184.3 596,1187.1"/></g>
<g fill="#079ccf"><polygon points="324.8,829.1 336.1,826.3 324.5,821.5 313.2,824.2"/><polygon points="336.5,833.9 347.8,831.1 336.1,826.3 324.8,829.1"/><polygon points="348.1,838.8 359.4,836 347.8,831.1 336.5,833.9"/><polygon points="359.7,843.6 371,840.8 359.4,836 348.1,838.8"/><polygon points="371.4,1103.6 382.7,1100.9 371,840.8 359.7,843.6"/><polygon points="383,853.3 394.3,850.5 382.7,1100.9 371.4,1103.6"/><polygon points="394.7,858.1 406,855.3 394.3,850.5 383,853.3"/><polygon points="406.3,863 417.6,860.2 406,855.3 394.7,858.1"/><polygon points="417.9,867.8 429.2,865 417.6,860.2 406.3,863"/><polygon points="429.6,1127.8 440.9,1125.1 429.2,865 417.9,867.8"/><polygon points="441.2,1132.7 452.5,1129.9 440.9,1125.1 429.6,1127.8"/><polygon points="452.9,882.3 464.2,879.5 452.5,1129.9 441.2,1132.7"/><polygon points="464.5,887.2 475.8,884.4 464.2,879.5 452.9,882.3"/><polygon points="476.1,892 487.4,889.2 475.8,884.4 464.5,887.2"/><polygon points="487.8,1152 499.1,1149.3 487.4,889.2 476.1,892"/><polygon points="499.4,853.8 510.7,851.1 499.1,1149.3 487.8,1152"/><polygon points="511.1,1161.7 522.4,1158.9 510.7,851.1 499.4,853.8"/><polygon points="522.7,911.4 534,908.6 522.4,1158.9 511.1,1161.7"/><polygon points="534.3,916.2 545.6,913.4 534,908.6 522.7,911.4"/><polygon points="546,1176.2 557.3,1173.5 545.6,913.4 534.3,916.2"/><polygon points="557.6,1181.1 568.9,1178.3 557.3,1173.5 546,1176.2"/><polygon points="569.3,1185.9 580.6,1183.1 568.9,1178.3 557.6,1181.1"/><polygon points="580.9,1190.8 592.2,1188 580.6,1183.1 569.3,1185.9"/><polygon points="592.5,940.4 603.8,937.6 592.2,1188 580.9,1190.8"/></g>
<g fill="#0f90d2"><polygon points="309.7,832.8 321.1,830 309.4,825.2 298.1,827.9"/><polygon points="321.4,837.6 332.7,834.8 321.1,830 309.7,832.8"/><polygon points="333,842.5 344.3,839.7 332.7,834.8 321.4,837.6"/><polygon points="344.7,847.3 356,844.5 344.3,839.7 333,842.5"/><polygon points="356.3,1107.3 367.6,1104.6 356,844.5 344.7,847.3"/><polygon points="367.9,857 379.3,854.2 367.6,1104.6 356.3,1107.3"/><polygon points="379.6,861.8 390.9,859 379.3,854.2 367.9,857"/><polygon points="391.2,866.7 402.5,863.9 390.9,859 379.6,861.8"/><polygon points="402.9,871.5 414.2,868.7 402.5,863.9 391.2,866.7"/><polygon points="414.5,1131.5 425.8,1128.8 414.2,868.7 402.9,871.5"/><polygon points="426.1,1136.4 437.5,1133.6 425.8,1128.8 414.5,1131.5"/><polygon points="437.8,886 449.1,883.2 437.5,1133.6 426.1,1136.4"/><polygon points="449.4,890.9 460.7,888.1 449.1,883.2 437.8,886"/><polygon points="461.1,895.7 472.4,892.9 460.7,888.1 449.4,890.9"/><polygon points="472.7,1155.7 484,1153 472.4,892.9 461.1,895.7"/><polygon points="484.3,1160.6 495.7,1157.8 484,1153 472.7,1155.7"/><polygon points="496,862.4 507.3,859.6 495.7,1157.8 484.3,1160.6"/><polygon points="507.6,915.1 518.9,912.3 507.3,859.6 496,862.4"/><polygon points="519.3,919.9 530.6,917.1 518.9,912.3 507.6,915.1"/><polygon points="530.9,1179.9 542.2,1177.2 530.6,917.1 519.3,919.9"/><polygon points="542.5,1184.8 553.9,1182 542.2,1177.2 530.9,1179.9"/><polygon points="554.2,1189.6 565.5,1186.8 553.9,1182 542.5,1184.8"/><polygon points="565.8,1194.5 577.1,1191.7 565.5,1186.8 554.2,1189.6"/><polygon points="577.5,944.1 588.8,941.3 577.1,1191.7 565.8,1194.5"/></g>
<g fill="#1484d4"><polygon points="294.7,836.5 306,833.7 294.3,1084.1 283,1086.8"/><polygon points="306.3,841.3 317.6,838.5 306,833.7 294.7,836.5"/><polygon points="318,846.2 329.3,843.4 317.6,838.5 306.3,841.3"/><polygon points="329.6,851 340.9,848.2 329.3,843.4 318,846.2"/><polygon points="341.2,855.8 352.5,853.1 340.9,848.2 329.6,851"/><polygon points="352.9,1115.9 364.2,1113.1 352.5,853.1 341.2,855.8"/><polygon points="364.5,865.5 375.8,862.7 364.2,1113.1 352.9,1115.9"/><polygon points="376.2,870.4 387.5,867.6 375.8,862.7 364.5,865.5"/><polygon points="387.8,875.2 399.1,872.4 387.5,867.6 376.2,870.4"/><polygon points="399.4,880 410.7,877.3 399.1,872.4 387.8,875.2"/><polygon points="411.1,884.9 422.4,882.1 410.7,877.3 399.4,880"/><polygon points="422.7,1144.9 434,1142.1 422.4,882.1 411.1,884.9"/><polygon points="434.4,894.6 445.7,891.8 434,1142.1 422.7,1144.9"/><polygon points="446,899.4 457.3,896.6 445.7,891.8 434.4,894.6"/><polygon points="457.6,904.2 468.9,901.5 457.3,896.6 446,899.4"/><polygon points="469.3,909.1 480.6,906.3 468.9,901.5 457.6,904.2"/><polygon points="480.9,913.9 492.2,911.1 480.6,906.3 469.3,909.1"/><polygon points="492.6,870.9 503.9,868.1 492.2,911.1 480.9,913.9"/><polygon points="504.2,923.6 515.5,920.8 503.9,868.1 492.6,870.9"/><polygon points="515.8,928.4 527.1,925.7 515.5,920.8 504.2,923.6"/><polygon points="527.5,933.3 538.8,930.5 527.1,925.7 515.8,928.4"/><polygon points="539.1,938.1 550.4,935.3 538.8,930.5 527.5,933.3"/><polygon points="550.8,943 562.1,940.2 550.4,935.3 539.1,938.1"/><polygon points="562.4,1203 573.7,1200.2 562.1,940.2 550.8,943"/></g>
<g fill="#1079da"><polygon points="279.6,1095.4 290.9,1092.6 279.3,832.6 268,835.3"/><polygon points="291.2,1100.2 302.6,1097.4 290.9,1092.6 279.6,1095.4"/><polygon points="302.9,1105.1 314.2,1102.3 302.6,1097.4 291.2,1100.2"/><polygon points="314.5,1109.9 325.8,1107.1 314.2,1102.3 302.9,1105.1"/><polygon points="326.2,859.5 337.5,856.8 325.8,1107.1 314.5,1109.9"/><polygon points="337.8,864.4 349.1,861.6 337.5,856.8 326.2,859.5"/><polygon points="349.4,1124.4 360.8,1121.6 349.1,861.6 337.8,864.4"/><polygon points="361.1,1129.3 372.4,1126.5 360.8,1121.6 349.4,1124.4"/><polygon points="372.7,1134.1 384,1131.3 372.4,1126.5 361.1,1129.3"/><polygon points="384.4,883.7 395.7,881 384,1131.3 372.7,1134.1"/><polygon points="396,888.6 407.3,885.8 395.7,881 384.4,883.7"/><polygon points="407.6,893.4 419,890.6 407.3,885.8 396,888.6"/><polygon points="419.3,1153.5 430.6,1150.7 419,890.6 407.6,893.4"/><polygon points="430.9,1158.3 442.2,1155.5 430.6,1150.7 419.3,1153.5"/><polygon points="442.6,907.9 453.9,905.2 442.2,1155.5 430.9,1158.3"/><polygon points="454.2,912.8 465.5,910 453.9,905.2 442.6,907.9"/><polygon points="465.8,917.6 477.2,914.8 465.5,910 454.2,912.8"/><polygon points="477.5,922.5 488.8,919.7 477.2,914.8 465.8,917.6"/><polygon points="489.1,879.4 500.4,876.7 488.8,919.7 477.5,922.5"/><polygon points="500.8,932.1 512.1,929.4 500.4,876.7 489.1,879.4"/><polygon points="512.4,937 523.7,934.2 512.1,929.4 500.8,932.1"/><polygon points="524,941.8 535.4,939 523.7,934.2 512.4,937"/><polygon points="535.7,946.7 547,943.9 535.4,939 524,941.8"/><polygon points="547.3,951.5 558.6,948.7 547,943.9 535.7,946.7"/></g>
<g fill="#066fdf"><polygon points="264.5,843.9 275.8,841.1 264.2,836.3 252.9,839"/><polygon points="276.2,848.7 287.5,845.9 275.8,841.1 264.5,843.9"/><polygon points="287.8,853.6 299.1,850.8 287.5,845.9 276.2,848.7"/><polygon points="299.5,858.4 310.8,855.6 299.1,850.8 287.8,853.6"/><polygon points="311.1,1118.4 322.4,1115.7 310.8,855.6 299.5,858.4"/><polygon points="322.7,868.1 334,865.3 322.4,1115.7 311.1,1118.4"/><polygon points="334.4,872.9 345.7,870.1 334,865.3 322.7,868.1"/><polygon points="346,877.8 357.3,875 345.7,870.1 334.4,872.9"/><polygon points="357.7,882.6 369,879.8 357.3,875 346,877.8"/><polygon points="369.3,1142.6 380.6,1139.9 369,879.8 357.7,882.6"/><polygon points="380.9,1147.5 392.2,1144.7 380.6,1139.9 369.3,1142.6"/><polygon points="392.6,897.1 403.9,894.3 392.2,1144.7 380.9,1147.5"/><polygon points="404.2,902 415.5,899.2 403.9,894.3 392.6,897.1"/><polygon points="415.9,906.8 427.2,904 415.5,899.2 404.2,902"/><polygon points="427.5,1166.8 438.8,1164.1 427.2,904 415.9,906.8"/><polygon points="439.1,1171.7 450.4,1168.9 438.8,1164.1 427.5,1166.8"/><polygon points="450.8,1176.5 462.1,1173.7 450.4,1168.9 439.1,1171.7"/><polygon points="462.4,926.2 473.7,923.4 462.1,1173.7 450.8,1176.5"/><polygon points="474.1,931 485.4,928.2 473.7,923.4 462.4,926.2"/><polygon points="485.7,888 497,885.2 485.4,928.2 474.1,931"/><polygon points="497.3,1195.9 508.6,1193.1 497,885.2 485.7,888"/><polygon points="509,1200.7 520.3,1197.9 508.6,1193.1 497.3,1195.9"/><polygon points="520.6,1205.6 531.9,1202.8 520.3,1197.9 509,1200.7"/><polygon points="532.3,955.2 543.6,952.4 531.9,1202.8 520.6,1205.6"/></g>
<g fill="#0462e0"><polygon points="249.5,847.6 260.8,844.8 249.1,840 237.8,842.7"/><polygon points="261.1,852.4 272.4,849.6 260.8,844.8 249.5,847.6"/><polygon points="272.7,857.3 284.1,854.5 272.4,849.6 261.1,852.4"/><polygon points="284.4,862.1 295.7,859.3 284.1,854.5 272.7,857.3"/><polygon points="296,1122.1 307.3,1119.4 295.7,859.3 284.4,862.1"/><polygon points="307.7,871.8 319,869 307.3,1119.4 296,1122.1"/><polygon points="319.3,876.6 330.6,873.8 319,869 307.7,871.8"/><polygon points="330.9,881.5 342.3,878.7 330.6,873.8 319.3,876.6"/><polygon points="342.6,886.3 353.9,883.5 342.3,878.7 330.9,881.5"/><polygon points="354.2,1146.3 365.5,1143.6 353.9,883.5 342.6,886.3"/><polygon points="365.9,1151.2 377.2,1148.4 365.5,1143.6 354.2,1146.3"/><polygon points="377.5,900.8 388.8,898 377.2,1148.4 365.9,1151.2"/><polygon points="389.1,905.7 400.5,902.9 388.8,898 377.5,900.8"/><polygon points="400.8,910.5 412.1,907.7 400.5,902.9 389.1,905.7"/><polygon points="412.4,1170.5 423.7,1167.8 412.1,907.7 400.8,910.5"/><polygon points="424.1,1175.4 435.4,1172.6 423.7,1167.8 412.4,1170.5"/><polygon points="435.7,1180.2 447,1177.4 435.4,1172.6 424.1,1175.4"/><polygon points="447.3,929.9 458.7,927.1 447,1177.4 435.7,1180.2"/><polygon points="459,934.7 470.3,931.9 458.7,927.1 447.3,929.9"/><polygon points="470.6,1194.7 481.9,1192 470.3,931.9 459,934.7"/><polygon points="482.3,896.5 493.6,893.8 481.9,1192 470.6,1194.7"/><polygon points="493.9,1204.4 505.2,1201.6 493.6,893.8 482.3,896.5"/><polygon points="505.5,1209.3 516.9,1206.5 505.2,1201.6 493.9,1204.4"/><polygon points="517.2,958.9 528.5,956.1 516.9,1206.5 505.5,1209.3"/></g>
<g fill="#294cca"><polygon points="234.4,851.3 245.7,848.5 234.1,843.7 222.8,846.4"/><polygon points="246,856.1 257.3,853.3 245.7,848.5 234.4,851.3"/><polygon points="257.7,861 269,858.2 257.3,853.3 246,856.1"/><polygon points="269.3,865.8 280.6,863 269,858.2 257.7,861"/><polygon points="281,1125.8 292.3,1123.1 280.6,863 269.3,865.8"/><polygon points="292.6,875.5 303.9,872.7 292.3,1123.1 281,1125.8"/><polygon points="304.2,880.3 315.5,877.5 303.9,872.7 292.6,875.5"/><polygon points="315.9,885.2 327.2,882.4 315.5,877.5 304.2,880.3"/><polygon points="327.5,890 338.8,887.2 327.2,882.4 315.9,885.2"/><polygon points="339.2,1150 350.5,1147.3 338.8,887.2 327.5,890"/><polygon points="350.8,1154.9 362.1,1152.1 350.5,1147.3 339.2,1150"/><polygon points="362.4,904.5 373.7,901.7 362.1,1152.1 350.8,1154.9"/><polygon points="374.1,909.4 385.4,906.6 373.7,901.7 362.4,904.5"/><polygon points="385.7,914.2 397,911.4 385.4,906.6 374.1,909.4"/><polygon points="397.4,1174.2 408.7,1171.5 397,911.4 385.7,914.2"/><polygon points="409,1179.1 420.3,1176.3 408.7,1171.5 397.4,1174.2"/><polygon points="420.6,1183.9 431.9,1181.1 420.3,1176.3 409,1179.1"/><polygon points="432.3,933.6 443.6,930.8 431.9,1181.1 420.6,1183.9"/><polygon points="443.9,938.4 455.2,935.6 443.6,930.8 432.3,933.6"/><polygon points="455.6,1198.4 466.9,1195.7 455.2,935.6 443.9,938.4"/><polygon points="467.2,1203.3 478.5,1200.5 466.9,1195.7 455.6,1198.4"/><polygon points="478.8,905.1 490.1,902.3 478.5,1200.5 467.2,1203.3"/><polygon points="490.5,1213 501.8,1210.2 490.1,902.3 478.8,905.1"/><polygon points="502.1,962.6 513.4,959.8 501.8,1210.2 490.5,1213"/></g>
<g fill="#353aa8"><polygon points="219.3,855 230.6,852.2 219,847.4 207.7,850.1"/><polygon points="231,859.8 242.3,857 230.6,852.2 219.3,855"/><polygon points="242.6,864.7 253.9,861.9 242.3,857 231,859.8"/><polygon points="254.2,869.5 265.6,866.7 253.9,861.9 242.6,864.7"/><polygon points="265.9,1129.5 277.2,1126.8 265.6,866.7 254.2,869.5"/><polygon points="277.5,879.2 288.8,876.4 277.2,1126.8 265.9,1129.5"/><polygon points="289.2,884 300.5,881.2 288.8,876.4 277.5,879.2"/><polygon points="300.8,888.9 312.1,886.1 300.5,881.2 289.2,884"/><polygon points="312.4,893.7 323.8,890.9 312.1,886.1 300.8,888.9"/><polygon points="324.1,1153.7 335.4,1151 323.8,890.9 312.4,893.7"/><polygon points="335.7,1158.6 347,1155.8 335.4,1151 324.1,1153.7"/><polygon points="347.4,908.2 358.7,905.4 347,1155.8 335.7,1158.6"/><polygon points="359,913.1 370.3,910.3 358.7,905.4 347.4,908.2"/><polygon points="370.6,917.9 382,915.1 370.3,910.3 359,913.1"/><polygon points="382.3,1177.9 393.6,1175.2 382,915.1 370.6,917.9"/><polygon points="393.9,1182.8 405.2,1180 393.6,1175.2 382.3,1177.9"/><polygon points="405.6,1187.6 416.9,1184.8 405.2,1180 393.9,1182.8"/><polygon points="417.2,937.3 428.5,934.5 416.9,1184.8 405.6,1187.6"/><polygon points="428.8,942.1 440.2,939.3 428.5,934.5 417.2,937.3"/><polygon points="440.5,1202.1 451.8,1199.4 440.2,939.3 428.8,942.1"/><polygon points="452.1,1207 463.4,1204.2 451.8,1199.4 440.5,1202.1"/><polygon points="463.8,1211.8 475.1,1209 463.4,1204.2 452.1,1207"/><polygon points="475.4,913.6 486.7,910.8 475.1,1209 463.8,1211.8"/><polygon points="487,966.3 498.4,963.5 486.7,910.8 475.4,913.6"/></g>
<g fill="#352a87"><polygon points="204.3,858.7 215.6,855.9 203.9,1106.3 192.6,1109"/><polygon points="215.9,863.5 227.2,860.7 215.6,855.9 204.3,858.7"/><polygon points="227.5,868.4 238.8,865.6 227.2,860.7 215.9,863.5"/><polygon points="239.2,873.2 250.5,870.4 238.8,865.6 227.5,868.4"/><polygon points="250.8,878 262.1,875.3 250.5,870.4 239.2,873.2"/><polygon points="262.5,1138.1 273.8,1135.3 262.1,875.3 250.8,878"/><polygon points="274.1,887.7 285.4,884.9 273.8,1135.3 262.5,1138.1"/><polygon points="285.7,892.6 297,889.8 285.4,884.9 274.1,887.7"/><polygon points="297.4,897.4 308.7,894.6 297,889.8 285.7,892.6"/><polygon points="309,902.2 320.3,899.5 308.7,894.6 297.4,897.4"/><polygon points="320.7,907.1 332,904.3 320.3,899.5 309,902.2"/><polygon points="332.3,1167.1 343.6,1164.3 332,904.3 320.7,907.1"/><polygon points="343.9,916.8 355.2,914 343.6,1164.3 332.3,1167.1"/><polygon points="355.6,921.6 366.9,918.8 355.2,914 343.9,916.8"/><polygon points="367.2,926.4 378.5,923.7 366.9,918.8 355.6,921.6"/><polygon points="378.9,931.3 390.2,928.5 378.5,923.7 367.2,926.4"/><polygon points="390.5,936.1 401.8,933.3 390.2,928.5 378.9,931.3"/><polygon points="402.1,1196.2 413.4,1193.4 401.8,933.3 390.5,936.1"/><polygon points="413.8,945.8 425.1,943 413.4,1193.4 402.1,1196.2"/><polygon points="425.4,950.6 436.7,947.9 425.1,943 413.8,945.8"/><polygon points="437.1,955.5 448.4,952.7 436.7,947.9 425.4,950.6"/><polygon points="448.7,960.3 460,957.5 448.4,952.7 437.1,955.5"/><polygon points="460.3,965.2 471.6,962.4 460,957.5 448.7,960.3"/><polygon points="472,922.1 483.3,919.4 471.6,962.4 460.3,965.2"/></g>
</g>
<g id="labels" font-family="'Liberation Sans', Arial, sans-serif">
<text x="8.5" y="38.6" font-size="41.5" text-anchor="start" font-weight="bold" fill="#000">A</text>
<text x="8.3" y="635.3" font-size="41.5" text-anchor="start" font-weight="bold" fill="#000">B</text>
<text x="500" y="29" font-size="35.5" text-anchor="middle" font-weight="normal" fill="#1a1a1a" textLength="425" lengthAdjust="spacingAndGlyphs">One Neuron State Space</text>
<text x="244" y="507" font-size="36" text-anchor="middle" font-weight="normal" fill="#1a1a1a" textLength="76" lengthAdjust="spacingAndGlyphs">Step</text>
<text x="830" y="507" font-size="36" text-anchor="middle" font-weight="normal" fill="#1a1a1a" textLength="216" lengthAdjust="spacingAndGlyphs">Matrix Input</text>
<text transform="translate(32.7,281.4) rotate(-90)" font-size="39" text-anchor="middle" fill="#1a1a1a" textLength="97" lengthAdjust="spacingAndGlyphs">Value</text>
<text x="108" y="373.5" font-size="25.5" text-anchor="end" font-weight="normal" fill="#1a1a1a">-1</text>
<text x="108" y="319.6" font-size="25.5" text-anchor="end" font-weight="normal" fill="#1a1a1a">-0.5</text>
<text x="108" y="265.7" font-size="25.5" text-anchor="end" font-weight="normal" fill="#1a1a1a">0</text>
<text x="108" y="211.8" font-size="25.5" text-anchor="end" font-weight="normal" fill="#1a1a1a">0.5</text>
<text x="108" y="157.9" font-size="25.5" text-anchor="end" font-weight="normal" fill="#1a1a1a">1</text>
<text x="447.8" y="496.3" font-size="25.5" text-anchor="end" font-weight="normal" fill="#1a1a1a">0</text>
<text x="334.5" y="463.2" font-size="25.5" text-anchor="end" font-weight="normal" fill="#1a1a1a">2</text>
<text x="221.3" y="430.1" font-size="25.5" text-anchor="end" font-weight="normal" fill="#1a1a1a">4</text>
<text x="108" y="397" font-size="25.5" text-anchor="end" font-weight="normal" fill="#1a1a1a">6</text>
<text x="483" y="496.8" font-size="25.5" text-anchor="start" font-weight="normal" fill="#1a1a1a">0</text>
<text x="571.4" y="481.6" font-size="25.5" text-anchor="start" font-weight="normal" fill="#1a1a1a">5</text>
<text x="659.8" y="466.4" font-size="25.5" text-anchor="start" font-weight="normal" fill="#1a1a1a">10</text>
<text x="748.2" y="451.2" font-size="25.5" text-anchor="start" font-weight="normal" fill="#1a1a1a">15</text>
<text x="836.6" y="436" font-size="25.5" text-anchor="start" font-weight="normal" fill="#1a1a1a">20</text>
<text x="925" y="420.8" font-size="25.5" text-anchor="start" font-weight="normal" fill="#1a1a1a">25</text>
<text x="499.5" y="625" font-size="36" text-anchor="middle" font-weight="normal" fill="#1a1a1a" textLength="716" lengthAdjust="spacingAndGlyphs">Hopfield Neural Network Trained Weight</text>
<text transform="translate(39,945) rotate(-90)" font-size="38" text-anchor="middle" fill="#1a1a1a" textLength="226" lengthAdjust="spacingAndGlyphs">Weight Value</text>
<text x="6" y="1308" font-size="38.5" text-anchor="start" font-weight="normal" fill="#1a1a1a" textLength="287" lengthAdjust="spacingAndGlyphs">Weight Matrix(Y)</text>
<text x="681" y="1311" font-size="38.5" text-anchor="start" font-weight="normal" fill="#1a1a1a" textLength="286" lengthAdjust="spacingAndGlyphs">Weight Matrix(X)</text>
<text x="106" y="1108.9" font-size="35.5" text-anchor="end" font-weight="normal" fill="#1a1a1a">-20</text>
<text x="106" y="1029.1" font-size="35.5" text-anchor="end" font-weight="normal" fill="#1a1a1a">-15</text>
<text x="106" y="949.4" font-size="35.5" text-anchor="end" font-weight="normal" fill="#1a1a1a">-10</text>
<text x="106" y="869.6" font-size="35.5" text-anchor="end" font-weight="normal" fill="#1a1a1a">-5</text>
<text x="106" y="789.9" font-size="35.5" text-anchor="end" font-weight="normal" fill="#1a1a1a">0</text>
<text x="450.7" y="1289.5" font-size="35.5" text-anchor="end" font-weight="normal" fill="#1a1a1a">0</text>
<text x="492.7" y="1291.5" font-size="35.5" text-anchor="start" font-weight="normal" fill="#1a1a1a">0</text>
<text x="334.3" y="1241.1" font-size="35.5" text-anchor="end" font-weight="normal" fill="#1a1a1a">10</text>
<text x="643.4" y="1254.5" font-size="35.5" text-anchor="start" font-weight="normal" fill="#1a1a1a">10</text>
<text x="217.9" y="1192.7" font-size="35.5" text-anchor="end" font-weight="normal" fill="#1a1a1a">20</text>
<text x="794.1" y="1217.5" font-size="35.5" text-anchor="start" font-weight="normal" fill="#1a1a1a">20</text>
<text x="101.5" y="1144.3" font-size="35.5" text-anchor="end" font-weight="normal" fill="#1a1a1a">30</text>
<text x="944.8" y="1180.5" font-size="35.5" text-anchor="start" font-weight="normal" fill="#1a1a1a">30</text>
</g>
</svg>
</body></html>
